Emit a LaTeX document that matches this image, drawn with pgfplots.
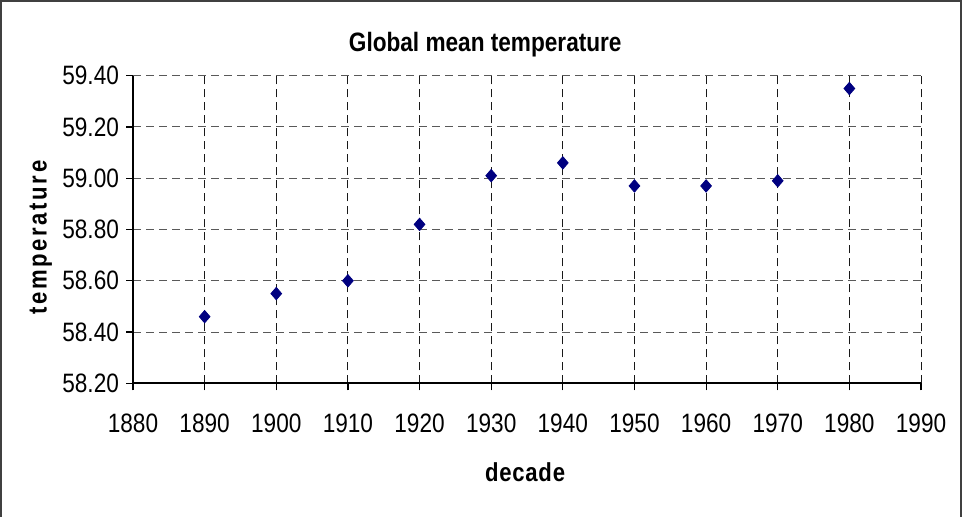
\documentclass[border=0pt]{standalone}
\usepackage{fontspec}
\setmainfont{Liberation Sans}[FakeStretch=0.85]
\usepackage{pgfplots}
\pgfplotsset{compat=1.18}
\definecolor{marknavy}{HTML}{000080}

\begin{document}
\begin{tikzpicture}
% page frame (one pixel = 0.5pt)
\useasboundingbox (0pt,0pt) rectangle (481.5pt,-258pt);
\draw[black!75, line width=1pt] (0.5pt,-262pt) -- (0.5pt,-0.5pt) -- (480.5pt,-0.5pt) -- (480.5pt,-262pt);
\begin{axis}[
  at={(66.5pt,-191.65pt)}, anchor=south west,
  scale only axis, width=394pt, height=153.8pt,
  xmin=1880, xmax=1990, ymin=58.2, ymax=59.4,
  xtick={1880,1890,...,1990},
  ytick={58.2,58.4,58.6,58.8,59.0,59.2,59.4},
  axis lines*=left,
  axis line style={-, line width=1pt, black},
  tick align=outside, major tick length=3.5pt,
  tick style={black, line width=0.6pt},
  grid=major,
  major grid style={dash pattern=on 4pt off 2.5pt, line width=0.5pt},
  x grid style={black!90},
  y grid style={black!65},
  ticklabel style={font=\fontsize{13.3}{15}\selectfont},
  /pgf/number format/assume math mode=true,
  xticklabel style={/pgf/number format/1000 sep={}, yshift=-8.5pt},
  yticklabel style={/pgf/number format/.cd, fixed, fixed zerofill, precision=2},
  title={Global mean temperature},
  title style={font=\bfseries\fontsize{13.3}{16}\selectfont,
    at={(axis description cs:0.447,1.078)}, anchor=base, yshift=-6pt},
  xlabel={decade},
  xlabel style={font=\bfseries\fontsize{13}{15}\selectfont\addfontfeature{LetterSpace=3},
    at={(axis description cs:0.4975,-0.32)}, anchor=base},
  ylabel={temperature},
  ylabel style={font=\bfseries\fontsize{13}{15}\selectfont\addfontfeature{LetterSpace=10},
    at={(axis description cs:-0.1095,0.474)}, anchor=base},
]
\addplot[only marks, mark=diamond*, mark size=3.1pt,
  mark options={fill=marknavy, draw=marknavy, xscale=1.15}]
  coordinates {
    (1890,58.46) (1900,58.55) (1910,58.60) (1920,58.82) (1930,59.01)
    (1940,59.06) (1950,58.97) (1960,58.97) (1970,58.99) (1980,59.35)
  };
\end{axis}
\end{tikzpicture}
\end{document}
